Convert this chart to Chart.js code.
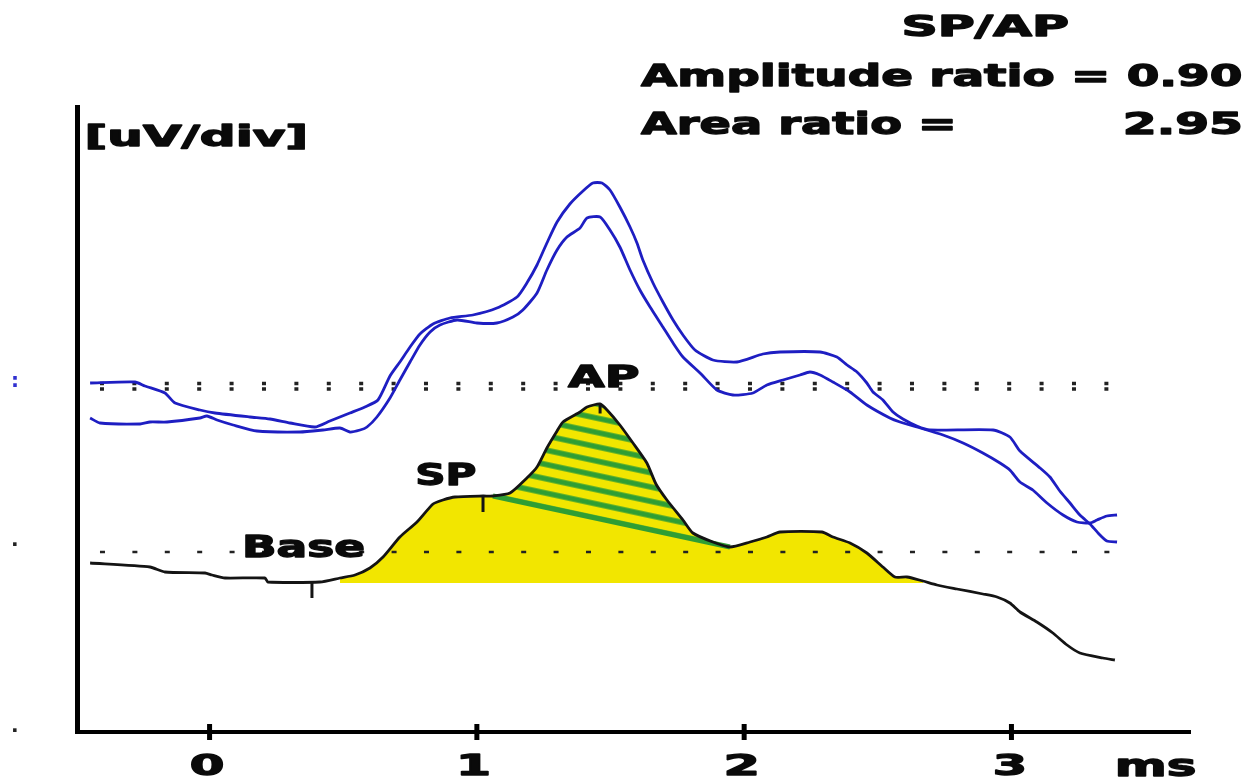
<!DOCTYPE html>
<html>
<head>
<meta charset="utf-8">
<script src="https://cdn.jsdelivr.net/npm/chart.js@4.4.1/dist/chart.umd.min.js"></script>
<style>
html,body{margin:0;padding:0;background:#fff;overflow:hidden}
canvas{display:block}
</style>
</head>
<body>
<canvas id="c" width="1255" height="781"></canvas>
<script>
// ---------------- data ----------------
const X_TICKS = [0, 1, 2, 3];
const X_TICK_LABELS = ['0', '1', '2', '3'];
const X_UNIT = 'ms';
const Y_UNIT = '[uV/div]';
const Y_TICKS = [0, 18.6, 35.0];
const Y_TICK_LABELS = ['\u00b7', '\u00b7', ':'];
const TITLE = 'SP/AP';
const AMP_TEXT = 'Amplitude ratio = 0.90';
const AREA_TEXT = 'Area ratio =';
const AREA_VALUE = '2.95';
const MARK_LABELS = ['Base', 'SP', 'AP'];

// upper blue traces (two recordings) — time in ms, amplitude in arbitrary uV units
const A_MS = [-0.447,-0.279,-0.242,-0.167,-0.129,-0.036,0.020,0.151,0.226,0.301,0.394,0.450,0.525,0.581,0.630,0.675,0.712,0.750,0.787,0.836,0.899,0.985,1.075,1.150,1.187,1.225,1.262,1.300,1.348,1.397,1.434,1.468,1.498,1.535,1.573,1.599,1.621,1.659,1.696,1.734,1.771,1.816,1.883,1.973,2.070,2.134,2.284,2.347,2.385,2.422,2.459,2.482,2.519,2.557,2.594,2.646,2.695,2.931,2.994,3.032,3.107,3.144,3.181,3.219,3.256,3.294,3.324,3.357,3.395];
const A_UV = [34.9,35.0,34.6,33.9,32.9,32.2,31.9,31.5,31.3,30.9,30.5,31.1,31.9,32.5,33.2,35.6,37.0,38.5,39.8,40.8,41.4,41.7,42.4,43.5,44.9,46.7,48.9,51.0,52.8,54.1,54.9,54.9,54.2,52.5,50.5,48.9,47.2,44.9,43.0,41.2,39.7,38.2,37.2,37.0,37.8,38.0,38.0,37.5,36.7,36.0,34.9,34.0,33.2,32.0,31.3,30.6,30.2,30.2,29.5,28.1,26.4,25.5,24.1,22.9,21.7,20.8,19.9,19.1,19.0];
const B_MS = [-0.447,-0.410,-0.260,-0.223,-0.159,-0.036,-0.010,0.028,0.088,0.177,0.338,0.424,0.488,0.525,0.563,0.589,0.626,0.675,0.712,0.750,0.787,0.825,0.862,0.926,1.000,1.075,1.135,1.172,1.225,1.262,1.300,1.337,1.386,1.412,1.461,1.498,1.535,1.573,1.610,1.648,1.696,1.734,1.771,1.835,1.898,1.958,2.033,2.085,2.145,2.209,2.246,2.284,2.332,2.396,2.459,2.545,2.583,2.646,2.744,2.819,2.893,2.957,2.994,3.032,3.080,3.133,3.193,3.245,3.294,3.320,3.357,3.395];
const B_UV = [31.4,30.9,30.8,31.0,31.0,31.4,31.6,31.2,30.7,30.1,30.0,30.2,30.4,30.0,30.2,30.5,31.5,33.4,35.2,37.0,38.7,40.0,40.7,41.2,40.9,40.9,41.5,42.2,43.9,46.2,48.2,49.5,50.4,51.4,51.5,50.2,48.5,46.2,44.2,42.5,40.5,38.9,37.5,35.9,34.2,33.7,33.9,34.7,35.2,35.7,36.0,35.7,35.0,34.0,32.7,31.4,31.0,30.5,29.7,28.9,27.9,26.9,26.2,25.0,24.2,22.9,21.7,21.0,20.9,21.2,21.6,21.7];
// lower black (averaged) trace
const K_MS = [-0.447,-0.223,-0.167,-0.017,0.009,0.058,0.207,0.218,0.413,0.488,0.544,0.600,0.649,0.712,0.776,0.836,0.873,0.918,1.023,1.060,1.124,1.187,1.225,1.262,1.300,1.322,1.386,1.412,1.461,1.487,1.535,1.584,1.636,1.670,1.711,1.771,1.808,1.883,1.947,2.022,2.085,2.134,2.291,2.332,2.396,2.459,2.519,2.564,2.609,2.669,2.721,2.796,2.893,2.946,2.994,3.032,3.095,3.155,3.208,3.256,3.342,3.387];
const K_UV = [16.9,16.5,16.0,15.9,15.7,15.4,15.4,15.0,15.0,15.4,15.7,16.4,17.5,19.5,21.0,22.8,23.2,23.5,23.6,23.6,23.9,25.4,26.5,28.4,30.1,31.0,32.0,32.5,32.8,32.2,30.7,28.9,26.9,24.8,23.2,21.2,19.9,19.0,18.5,19.0,19.5,20.0,20.0,19.5,18.9,17.9,16.5,15.5,15.5,15.1,14.7,14.3,13.8,13.5,12.9,12.0,11.0,9.9,8.7,7.9,7.4,7.2];

// area measurement
const AREA_BASE_UV = 14.9;          // horizontal base of the yellow (SP) area
const AREA_FROM_MS = 0.488;
const AREA_TO_MS = 2.67;
const AP_FROM_MS = 1.060;           // end of SP plateau (chord start)
const AP_TO_MS = 1.947;             // trough after AP (chord end)

// dotted reference levels
const DOT_RANGE_MS = [-0.41, 3.38];
const DOT_UPPER_UV = [34.85, 34.3];
const DOT_LOWER_UV = [18.0];

// cursor marks (Base, SP, AP)
const MARK_MS = [0.383, 1.023, 1.461];
const MARK_UV = [14.25, 22.75, 32.3];

// ---------------- styles ----------------
const BLUE = '#1e1ec2';
const BLACK = '#141414';
const YELLOW = '#f2e600';
const GREEN = '#2f9e34';
const FONT = '"DejaVu Sans", Verdana, sans-serif';

const zip = (xs, ys) => xs.map((x, i) => ({x, y: ys[i]}));
const K_PTS = zip(K_MS, K_UV);
const yellowPts = K_PTS.filter(p => p.x >= AREA_FROM_MS && p.x <= AREA_TO_MS);
const apPts = K_PTS.filter(p => p.x >= AP_FROM_MS && p.x <= AP_TO_MS);
const chordPts = [apPts[0], apPts[apPts.length - 1]];
const flat = (lvl) => DOT_RANGE_MS.map(x => ({x, y: lvl}));

function hatch(chart) {
  const xs = chart.scales && chart.scales.x, ys = chart.scales && chart.scales.y;
  if (!xs || !ys || !chart.chartArea) return GREEN;
  const x0 = xs.getPixelForValue(chordPts[0].x), y0 = ys.getPixelForValue(chordPts[0].y);
  const x1 = xs.getPixelForValue(chordPts[1].x), y1 = ys.getPixelForValue(chordPts[1].y);
  const ang = Math.atan2(y1 - y0, x1 - x0) * 180 / Math.PI;
  const tile = document.createElement('canvas');
  tile.width = 20; tile.height = 14;
  const g = tile.getContext('2d');
  g.fillStyle = GREEN;
  g.fillRect(0, 0, 20, 2.7);
  g.fillRect(0, 11.3, 20, 2.7);
  const pat = chart.ctx.createPattern(tile, 'repeat');
  pat.setTransform(new DOMMatrix().translate(x0, y0).rotate(ang));
  return pat;
}

function drawStretched(ctx, text, left, baseline, width, size) {
  ctx.save();
  ctx.font = 'bold ' + size + 'px ' + FONT;
  ctx.textAlign = 'left';
  ctx.textBaseline = 'alphabetic';
  const m = ctx.measureText(text);
  const gw = m.actualBoundingBoxLeft + m.actualBoundingBoxRight;
  ctx.translate(left, baseline);
  ctx.scale(width / gw, 1);
  ctx.fillStyle = '#0a0a0a';
  ctx.strokeStyle = '#0a0a0a';
  ctx.lineWidth = 1.3;
  ctx.lineJoin = 'round';
  ctx.fillText(text, m.actualBoundingBoxLeft, 0);
  ctx.strokeText(text, m.actualBoundingBoxLeft, 0);
  ctx.restore();
}

const textPlugin = {
  id: 'texts',
  afterDraw(chart) {
    const ctx = chart.ctx, xs = chart.scales.x, ys = chart.scales.y;
    // header block
    drawStretched(ctx, TITLE, 905, 36, 163, 28);
    drawStretched(ctx, AMP_TEXT, 641, 86, 600, 30);
    drawStretched(ctx, AREA_TEXT, 641, 134, 311, 30);
    drawStretched(ctx, AREA_VALUE, 1126, 134, 114, 30);
    // unit of y
    drawStretched(ctx, Y_UNIT, 88, 146, 217, 28);
    // cursor labels
    const lab = [
      {dx: -67, y: 557, w: 118},
      {dx: -65, y: 485, w: 57},
      {dx: -32, y: 387, w: 70}
    ];
    MARK_LABELS.forEach((t, i) => {
      const px = xs.getPixelForValue(MARK_MS[i]);
      drawStretched(ctx, t, px + lab[i].dx, lab[i].y, lab[i].w, 30);
    });
    // x tick labels
    const tw = [32, 27, 30, 30];
    X_TICKS.forEach((t, i) => {
      const px = xs.getPixelForValue(t) - 2;
      drawStretched(ctx, X_TICK_LABELS[i], px - tw[i] / 2, ys.bottom + 43, tw[i], 28);
    });
    drawStretched(ctx, X_UNIT, xs.right - 72, ys.bottom + 44, 77, 30);
  }
};

const lineBase = {pointRadius: 0, tension: 0.2, borderJoinStyle: 'round', fill: false};

const cfg = {
  type: 'line',
  data: {
    datasets: [
      Object.assign({}, lineBase, {label: 'SP area', data: yellowPts, borderWidth: 0, backgroundColor: YELLOW, fill: {value: AREA_BASE_UV}, order: 20}),
      Object.assign({}, lineBase, {label: 'AP area', data: apPts, borderWidth: 0, backgroundColor: (c) => hatch(c.chart), fill: 'shape', order: 19}),
      Object.assign({}, lineBase, {label: 'chord', data: chordPts, borderWidth: 5, borderColor: GREEN, tension: 0, order: 18}),
      Object.assign({}, lineBase, {label: 'AP level a', data: flat(DOT_UPPER_UV[0]), borderWidth: 3.5, borderColor: '#222', borderDash: [4, 28.4], borderCapStyle: 'butt', tension: 0, order: 15}),
      Object.assign({}, lineBase, {label: 'AP level b', data: flat(DOT_UPPER_UV[1]), borderWidth: 3.5, borderColor: '#222', borderDash: [4, 28.4], borderCapStyle: 'butt', tension: 0, order: 15}),
      Object.assign({}, lineBase, {label: 'Base level', data: flat(DOT_LOWER_UV[0]), borderWidth: 2.5, borderColor: '#222', borderDash: [5, 27.4], borderCapStyle: 'butt', tension: 0, order: 15}),
      Object.assign({}, lineBase, {label: 'trace A', data: zip(A_MS, A_UV), borderWidth: 2.8, borderColor: BLUE, order: 5}),
      Object.assign({}, lineBase, {label: 'trace B', data: zip(B_MS, B_UV), borderWidth: 2.8, borderColor: BLUE, order: 5}),
      Object.assign({}, lineBase, {label: 'average', data: K_PTS, borderWidth: 2.8, borderColor: BLACK, order: 4}),
      {label: 'cursors', data: zip(MARK_MS, MARK_UV), showLine: false, pointStyle: 'line', pointRotation: 90,
       pointRadius: [8.5, 7.5, 4.5], pointBorderWidth: 3, pointBorderColor: BLACK, order: 2},
      {label: 'x ticks', data: X_TICKS.map(t => ({x: t, y: 0})), showLine: false, pointStyle: 'line', pointRotation: 90,
       pointRadius: 8, pointBorderWidth: 5, pointBorderColor: '#000', clip: false, order: 1}
    ]
  },
  options: {
    responsive: false,
    animation: false,
    devicePixelRatio: 1,
    layout: {padding: {top: 107, right: 65, left: 11, bottom: 0}},
    plugins: {legend: {display: false}, tooltip: {enabled: false}},
    scales: {
      x: {
        type: 'linear', min: -0.496, max: 3.668,
        grid: {display: false},
        ticks: {display: false},
        border: {display: true, width: 4, color: '#000'},
        afterFit: (s) => { s.height = 49; }
      },
      y: {
        type: 'linear', min: 0, max: 62.5,
        grid: {display: false},
        border: {display: true, width: 5, color: '#000'},
        afterBuildTicks: (s) => { s.ticks = Y_TICKS.map(v => ({value: v})); },
        ticks: {
          callback: (v, i) => Y_TICK_LABELS[i],
          crossAlign: 'far', padding: 0, autoSkip: false,
          font: {family: FONT, size: 20, weight: 'bold'},
          color: (c) => ['#222', '#222', '#3030d0'][c.index]
        },
        afterFit: (s) => { s.width = 66; }
      }
    }
  },
  plugins: [textPlugin]
};

new Chart(document.getElementById('c'), cfg);
</script>
</body>
</html>
